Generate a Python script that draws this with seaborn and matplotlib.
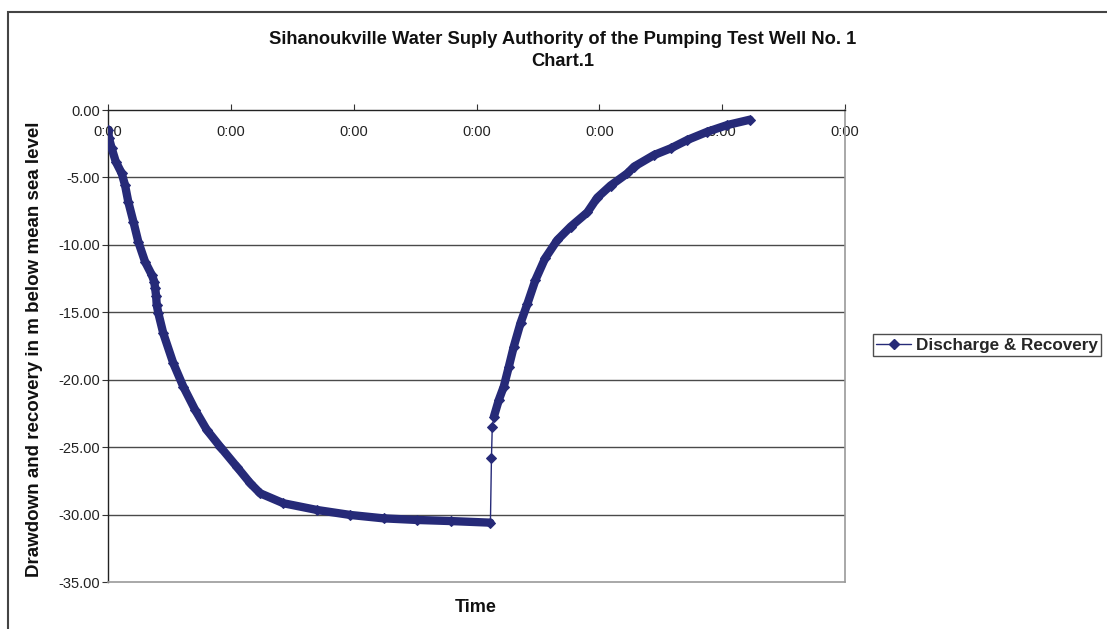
import numpy as np
import pandas as pd
import seaborn as sns
import matplotlib
matplotlib.use("Agg")
import matplotlib.pyplot as plt
from matplotlib.patches import Rectangle
from matplotlib.lines import Line2D

# ---- data (elapsed minutes, water level in m) ----
drawdown_time = [0.0, 0.5, 1.8, 3.8, 6.7, 8.3, 9.9, 12.4, 14.8, 18.1, 21.4, 22.6,
                 23.0, 23.5, 23.8, 24.6, 27.0, 31.9, 36.8, 42.6, 48.3, 54.8, 62.9,
                 69.5, 74.3, 85.7, 102.1, 118.4, 134.6, 151.0, 167.3, 186.8]
drawdown_level = [-1.45, -2.10, -2.84, -3.83, -4.70, -5.56, -6.80, -8.28, -9.77, -11.25,
                  -12.23, -12.73, -13.20, -13.77, -14.46, -15.07, -16.56, -18.78, -20.52,
                  -22.25, -23.73, -24.97, -26.45, -27.68, -28.42, -29.16, -29.66, -30.03,
                  -30.28, -30.40, -30.48, -30.60]
jump_time = [187.3, 187.7]
jump_level = [-25.83, -23.48]
recovery_time = [188.5, 190.9, 193.3, 195.8, 198.2, 201.5, 204.8, 208.8, 213.5, 219.5,
                 226.0, 234.1, 239.0, 245.5, 253.7, 257.0, 266.7, 274.9, 283.0, 292.8,
                 302.6, 313.5]
recovery_level = [-22.74, -21.50, -20.52, -19.03, -17.55, -15.80, -14.40, -12.60, -11.00,
                  -9.64, -8.65, -7.60, -6.50, -5.60, -4.70, -4.20, -3.34, -2.84, -2.22,
                  -1.61, -1.11, -0.72]
x_tick_values = [0, 60, 120, 180, 240, 300, 360]
x_tick_labels = ["0:00"] * 7
y_tick_values = [0, -5, -10, -15, -20, -25, -30, -35]

series_name = "Discharge & Recovery"
navy = "#262a78"

df = pd.DataFrame({
    "time": drawdown_time + jump_time + recovery_time,
    "level": drawdown_level + jump_level + recovery_level,
})
df_down = pd.DataFrame({"time": drawdown_time, "level": drawdown_level})
df_up = pd.DataFrame({"time": recovery_time, "level": recovery_level})

sns.set_theme(style="white")
plt.rcParams["font.family"] = ["Liberation Sans", "DejaVu Sans"]

fig = plt.figure(figsize=(11.07, 6.29), dpi=100)
W, H = 1107, 629
ax = fig.add_axes([108 / W, 1 - 582 / H, (845 - 108) / W, (582 - 110) / H])

# dense bands (many overlapping markers in the original)
sns.lineplot(data=df_down, x="time", y="level", ax=ax, color=navy, lw=6.0,
             sort=False, legend=False, zorder=3)
sns.lineplot(data=df_up, x="time", y="level", ax=ax, color=navy, lw=6.0,
             sort=False, legend=False, zorder=3)
# full series thin line with diamond markers
sns.lineplot(data=df, x="time", y="level", ax=ax, color=navy, lw=1.0,
             marker="D", markersize=5, markeredgecolor=navy, sort=False,
             legend=False, zorder=4)

ax.set_xlim(0, 360)
ax.set_ylim(-35, 0)
ax.set_yticks(y_tick_values)
ax.set_yticklabels([f"{v:.2f}" for v in y_tick_values])
ax.set_xticks(x_tick_values)
ax.set_xticklabels(x_tick_labels)

for v in y_tick_values[1:-1]:
    ax.axhline(v, color="#4a4a4a", lw=1.0, zorder=1)

ax.xaxis.set_ticks_position("top")
ax.tick_params(axis="x", top=True, bottom=False, labeltop=True, labelbottom=False,
               direction="out", length=4, width=0.8, color="#333333",
               pad=-25, labelsize=10.5, labelcolor="#222222")
ax.tick_params(axis="y", left=True, direction="out", length=4, width=0.8,
               color="#333333", pad=2, labelsize=10.5, labelcolor="#222222")

for s in ["left", "top"]:
    ax.spines[s].set_color("#222222")
    ax.spines[s].set_linewidth(1.0)
for s in ["right", "bottom"]:
    ax.spines[s].set_color("#9a9a9a")
    ax.spines[s].set_linewidth(1.2)
ax.spines["top"].set_zorder(5)

ax.set_xlabel("")
ax.set_ylabel("")

fig.text(563 / W, 1 - 40 / H, "Sihanoukville Water Suply Authority of the Pumping Test Well No. 1",
         ha="center", va="center", fontsize=13.2, fontweight="bold", color="#111111")
fig.text(563 / W, 1 - 62 / H, "Chart.1", ha="center", va="center",
         fontsize=13.2, fontweight="bold", color="#111111")
fig.text(476 / W, 1 - 607 / H, "Time", ha="center", va="center",
         fontsize=13, fontweight="bold", color="#111111")
fig.text(35 / W, 1 - 349 / H, "Drawdown and recovery in m below mean sea level",
         ha="center", va="center", rotation=90, fontsize=13.5, fontweight="bold",
         color="#111111")

handle = Line2D([], [], color=navy, lw=1.0, marker="D", markersize=5)
leg = fig.legend([handle], [series_name], loc="center left",
                 bbox_to_anchor=(873 / W, 1 - 345 / H), frameon=True, fancybox=False,
                 prop={"weight": "bold", "size": 12.3}, handlelength=2.0,
                 borderpad=0.2, handletextpad=0.3, borderaxespad=0)
leg.get_frame().set_edgecolor("#222222")
leg.get_frame().set_linewidth(1.0)

# outer chart frame
fig.patches.append(Rectangle((8 / W, -0.05), 1.2, 1 - 12 / H + 0.05,
                             transform=fig.transFigure, fill=False,
                             edgecolor="#444444", lw=1.5))

fig.savefig("out.png", dpi=100)
